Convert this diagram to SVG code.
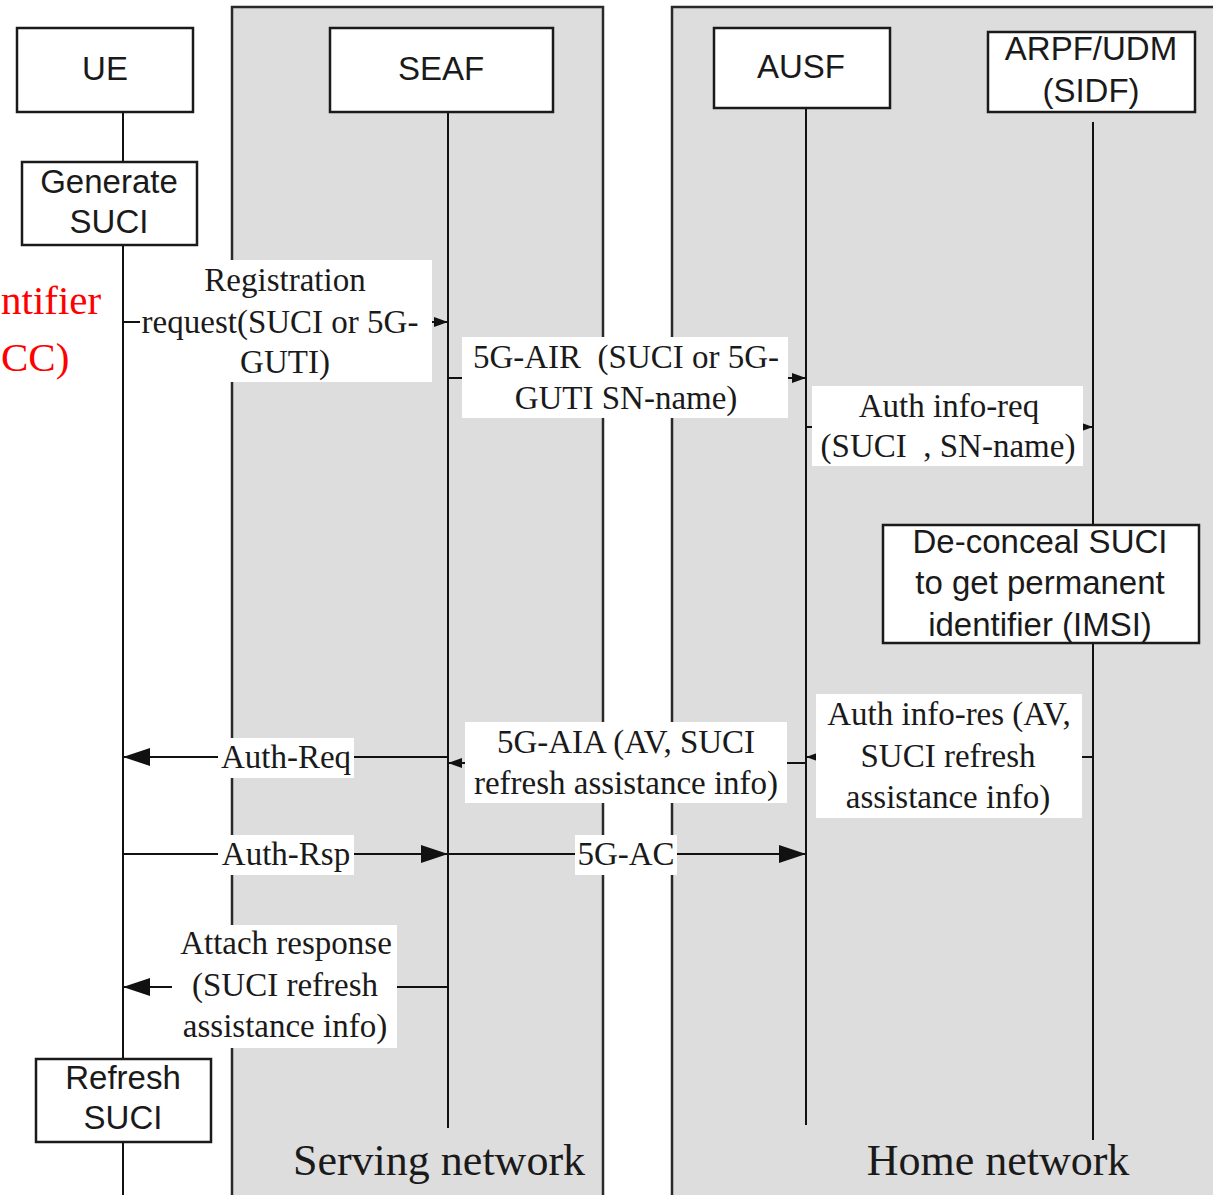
<svg xmlns="http://www.w3.org/2000/svg" width="1213" height="1195" viewBox="0 0 1213 1195">
  <style>
    .panel { fill: #dddddd; stroke: #2a2a2a; stroke-width: 2.5; }
    .box { fill: #ffffff; stroke: #1a1a1a; stroke-width: 2.5; }
    .life { stroke: #111111; stroke-width: 2; fill: none; }
    .msg { stroke: #111111; stroke-width: 2; fill: none; }
    .bg { fill: #ffffff; }
    .sans { font-family: "Liberation Sans", Arial, sans-serif; font-size: 33px; fill: #1a1a1a; text-anchor: middle; }
    .serif { font-family: "Liberation Serif", "Times New Roman", serif; font-size: 33px; fill: #1a1a1a; text-anchor: middle; }
    .zone { font-family: "Liberation Serif", "Times New Roman", serif; font-size: 44px; fill: #1a1a1a; text-anchor: middle; }
    .red { font-family: "Liberation Serif", "Times New Roman", serif; font-size: 41px; fill: #ff0000; }
  </style>
  <defs>
    <marker id="arrowSmall" markerUnits="userSpaceOnUse" markerWidth="14" markerHeight="11" refX="14" refY="5.5" orient="auto">
      <path d="M0,0.5 L14,5.5 L0,10.5 z" fill="#111111"/>
    </marker>
    <marker id="arrowLarge" markerUnits="userSpaceOnUse" markerWidth="27" markerHeight="18" refX="27" refY="9" orient="auto">
      <path d="M0,0 L27,9 L0,18 z" fill="#111111"/>
    </marker>
  </defs>

  <rect width="1213" height="1195" fill="#ffffff"/>

  <!-- network domains -->
  <g id="serving-network">
    <rect class="panel" x="232" y="7" width="371" height="1200"/>
    <text class="zone" x="439" y="1175">Serving network</text>
  </g>
  <g id="home-network">
    <rect class="panel" x="672" y="7" width="560" height="1200"/>
    <text class="zone" x="998" y="1175">Home network</text>
  </g>

  <!-- side note at the left margin -->
  <g id="side-note">
    <text class="red" x="1" y="314">ntifier</text>
    <text class="red" x="1" y="371">CC)</text>
  </g>

  <!-- lifelines -->
  <g id="lifelines">
    <line class="life" x1="123" y1="112" x2="123" y2="162"/>
    <line class="life" x1="123" y1="245" x2="123" y2="1059"/>
    <line class="life" x1="123" y1="1142" x2="123" y2="1195"/>
    <line class="life" x1="448" y1="112" x2="448" y2="1128"/>
    <line class="life" x1="806" y1="108" x2="806" y2="1125"/>
    <line class="life" x1="1093" y1="122" x2="1093" y2="525"/>
    <line class="life" x1="1093" y1="643" x2="1093" y2="1140"/>
  </g>

  <!-- message connectors -->
  <g id="connectors">
    <line class="msg" x1="123" y1="322" x2="448" y2="322" marker-end="url(#arrowSmall)"/>
    <line class="msg" x1="448" y1="378" x2="806" y2="378" marker-end="url(#arrowSmall)"/>
    <line class="msg" x1="806" y1="427" x2="1093" y2="427" marker-end="url(#arrowSmall)"/>
    <line class="msg" x1="1093" y1="757" x2="806" y2="757" marker-end="url(#arrowSmall)"/>
    <line class="msg" x1="806" y1="763" x2="448" y2="763" marker-end="url(#arrowSmall)"/>
    <line class="msg" x1="448" y1="757" x2="123" y2="757" marker-end="url(#arrowLarge)"/>
    <line class="msg" x1="123" y1="854" x2="448" y2="854" marker-end="url(#arrowLarge)"/>
    <line class="msg" x1="448" y1="854" x2="806" y2="854" marker-end="url(#arrowLarge)"/>
    <line class="msg" x1="448" y1="987" x2="123" y2="987" marker-end="url(#arrowLarge)"/>
  </g>

  <!-- message labels -->
  <g id="label-registration">
    <rect class="bg" x="140" y="260" width="292" height="122"/>
    <text class="serif" x="285" y="291">Registration</text>
    <text class="serif" x="280" y="333">request(SUCI or 5G-</text>
    <text class="serif" x="285" y="373">GUTI)</text>
  </g>
  <g id="label-5g-air">
    <rect class="bg" x="462" y="337" width="326" height="81"/>
    <text class="serif" x="626" y="368" xml:space="preserve">5G-AIR  (SUCI or 5G-</text>
    <text class="serif" x="626" y="409">GUTI SN-name)</text>
  </g>
  <g id="label-auth-info-req">
    <rect class="bg" x="812" y="386" width="271" height="80"/>
    <text class="serif" x="949" y="417">Auth info-req</text>
    <text class="serif" x="948" y="457" xml:space="preserve">(SUCI  , SN-name)</text>
  </g>
  <g id="label-auth-info-res">
    <rect class="bg" x="816" y="694" width="266" height="124"/>
    <text class="serif" x="949" y="725">Auth info-res (AV,</text>
    <text class="serif" x="948" y="767">SUCI refresh</text>
    <text class="serif" x="948" y="808">assistance info)</text>
  </g>
  <g id="label-5g-aia">
    <rect class="bg" x="465" y="722" width="322" height="81"/>
    <text class="serif" x="626" y="753">5G-AIA (AV, SUCI</text>
    <text class="serif" x="626" y="794">refresh assistance info)</text>
  </g>
  <g id="label-auth-req">
    <rect class="bg" x="218" y="738" width="136" height="40"/>
    <text class="serif" x="286" y="768">Auth-Req</text>
  </g>
  <g id="label-auth-rsp">
    <rect class="bg" x="218" y="835" width="136" height="40"/>
    <text class="serif" x="286" y="865">Auth-Rsp</text>
  </g>
  <g id="label-5g-ac">
    <rect class="bg" x="575" y="835" width="102" height="40"/>
    <text class="serif" x="626" y="865">5G-AC</text>
  </g>
  <g id="label-attach-response">
    <rect class="bg" x="172" y="925" width="225" height="123"/>
    <text class="serif" x="286" y="954">Attach response</text>
    <text class="serif" x="285" y="996">(SUCI refresh</text>
    <text class="serif" x="285" y="1037">assistance info)</text>
  </g>

  <!-- entities and processing steps -->
  <g id="node-ue">
    <rect class="box" x="17" y="28" width="176" height="84"/>
    <text class="sans" x="105" y="80">UE</text>
  </g>
  <g id="node-generate-suci">
    <rect class="box" x="22" y="162" width="175" height="83"/>
    <text class="sans" x="109" y="193">Generate</text>
    <text class="sans" x="109" y="233">SUCI</text>
  </g>
  <g id="node-seaf">
    <rect class="box" x="330" y="28" width="223" height="84"/>
    <text class="sans" x="441" y="80">SEAF</text>
  </g>
  <g id="node-ausf">
    <rect class="box" x="714" y="28" width="176" height="80"/>
    <text class="sans" x="801" y="78">AUSF</text>
  </g>
  <g id="node-arpf-udm">
    <rect class="box" x="988" y="32" width="207" height="80"/>
    <text class="sans" x="1091" y="60">ARPF/UDM</text>
    <text class="sans" x="1091" y="102">(SIDF)</text>
  </g>
  <g id="node-deconceal">
    <rect class="box" x="883" y="525" width="316" height="118"/>
    <text class="sans" x="1040" y="553">De-conceal SUCI</text>
    <text class="sans" x="1040" y="594">to get permanent</text>
    <text class="sans" x="1040" y="636">identifier (IMSI)</text>
  </g>
  <g id="node-refresh-suci">
    <rect class="box" x="36" y="1059" width="175" height="83"/>
    <text class="sans" x="123" y="1089">Refresh</text>
    <text class="sans" x="123" y="1129">SUCI</text>
  </g>
</svg>
